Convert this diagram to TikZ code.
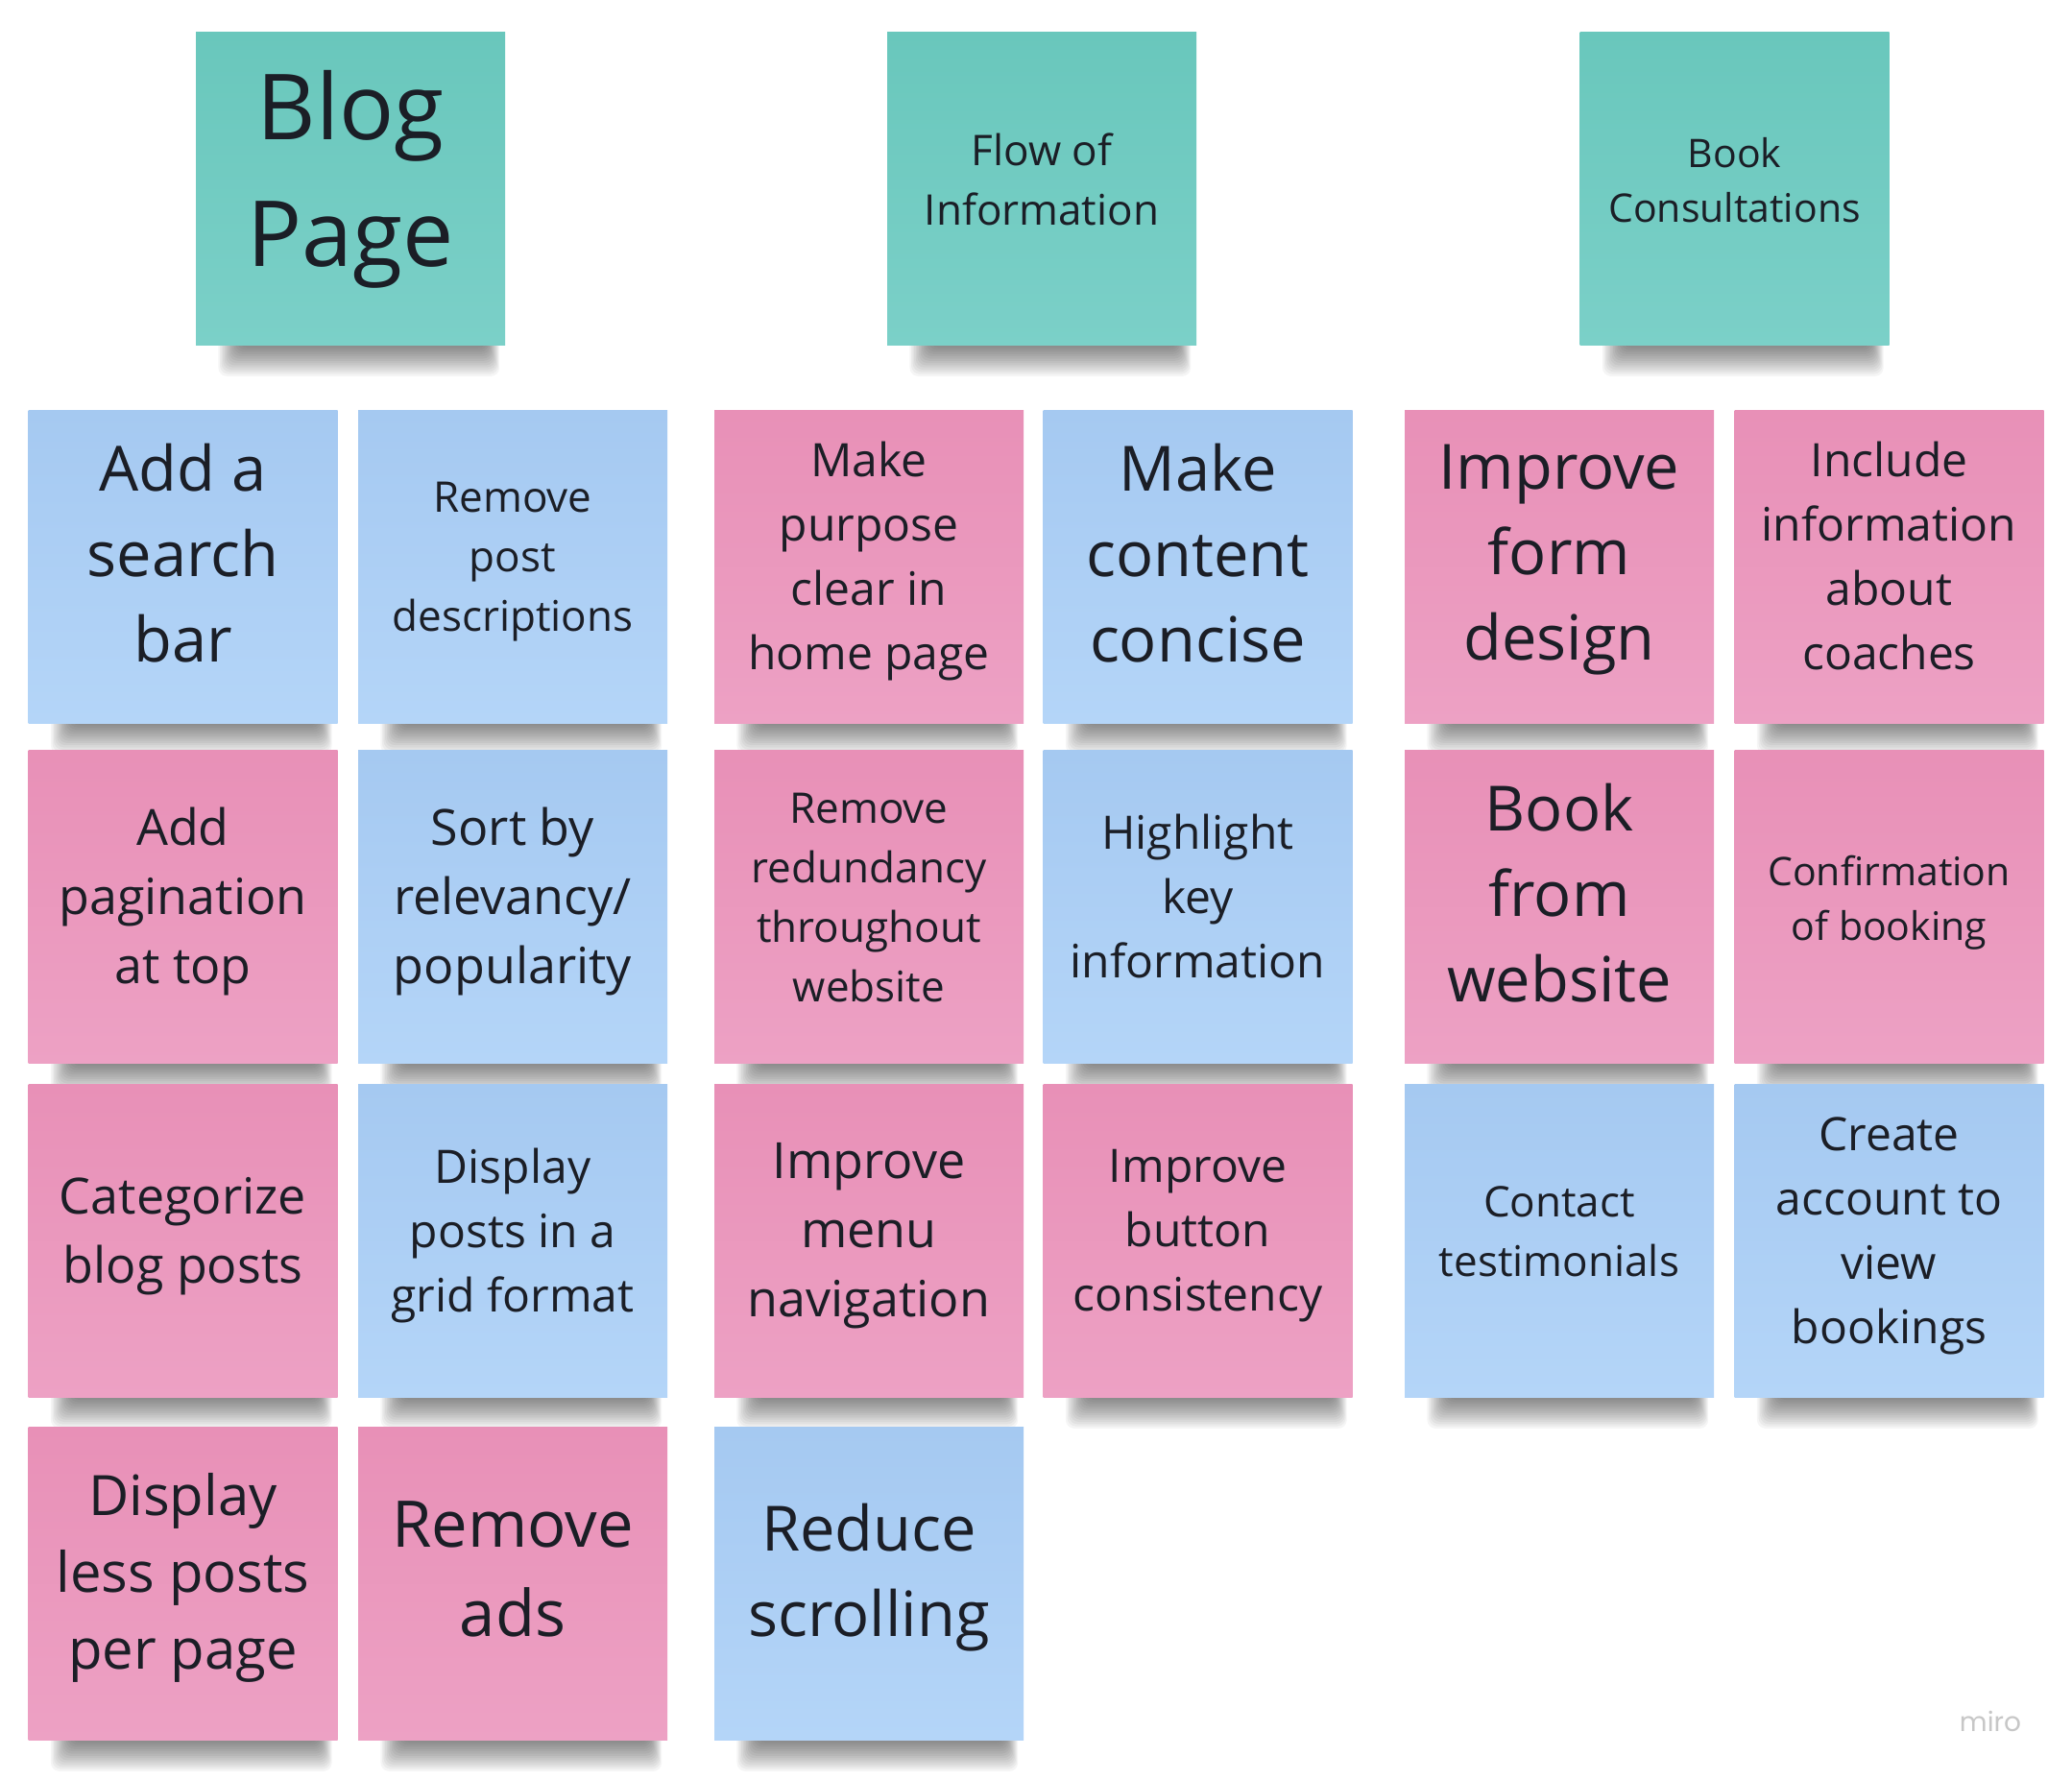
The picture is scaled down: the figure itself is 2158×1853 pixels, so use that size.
\documentclass[tikz,border=0pt]{standalone}
\usepackage{fontspec}
\setmainfont{Open Sans}
\newfontfamily\logofont{Poppins}
\usetikzlibrary{calc,backgrounds}

\definecolor{tealnote}{HTML}{69C7BC}
\definecolor{tealnotelow}{HTML}{7BD0C8}
\definecolor{bluenote}{HTML}{A5C9F1}
\definecolor{bluenotelow}{HTML}{B4D5F8}
\definecolor{pinknote}{HTML}{E890B7}
\definecolor{pinknotelow}{HTML}{EDA1C4}
\definecolor{ink}{HTML}{1B1E26}

\tikzset{
  note/.style={rectangle,inner sep=0pt,minimum width=322pt,minimum height=326pt,
    align=center,text=ink},
  tealbox/.style={note,top color=tealnote,bottom color=tealnotelow},
  bluebox/.style={note,top color=bluenote,bottom color=bluenotelow},
  pinkbox/.style={note,top color=pinknote,bottom color=pinknotelow},
  % text depth kept fixed so that the lines sit like line boxes
  t95/.style={font=\fontsize{95}{132}\selectfont,text depth=43pt},
  t67/.style={font=\fontsize{67}{93}\selectfont,text depth=30pt},
  t65/.style={font=\fontsize{65}{89}\selectfont,text depth=29pt},
  t58/.style={font=\fontsize{58}{80}\selectfont,text depth=26pt},
  t52/.style={font=\fontsize{52}{72}\selectfont,text depth=23pt},
  t48/.style={font=\fontsize{48}{67}\selectfont,text depth=22pt},
  t44/.style={font=\fontsize{44}{62}\selectfont,text depth=20pt},
  t41/.style={font=\fontsize{41}{57}\selectfont,text depth=18pt}
}

\begin{document}
\begin{tikzpicture}[x=1pt,y=-1pt]
  \useasboundingbox (0,0) rectangle (2158,1853);

  % headers
  \node[tealbox,t95] (blog) at (365,196.5) {Blog\\Page};
  \node[tealbox,t44] (flow) at (1085,196.5) {Flow of\\Information};
  \node[tealbox,t41] (book) at (1806.5,196.5) {Book\\Consultations};

  % row 1
  \node[bluebox,t65] (searchbar) at (190.5,590) {Add a\\search\\bar};
  \node[bluebox,t44] (postdesc) at (534,590) {Remove\\post\\descriptions};
  \node[pinkbox,t48] (purpose) at (905,590) {Make\\purpose\\clear in\\home page};
  \node[bluebox,t65] (concise) at (1247.5,590) {Make\\content\\concise};
  \node[pinkbox,t65] (formdesign) at (1624,590) {Improve\\form\\design};
  \node[pinkbox,t48] (coaches) at (1967.5,590) {Include\\information\\about\\coaches};

  % row 2
  \node[pinkbox,t52] (pagination) at (190.5,944.5) {Add\\pagination\\at top};
  \node[bluebox,t52] (sortby) at (534,944.5) {Sort by\\relevancy/\\popularity};
  \node[pinkbox,t44] (redundancy) at (905,944.5) {Remove\\redundancy\\throughout\\website};
  \node[bluebox,t48] (highlight) at (1247.5,944.5) {Highlight\\key\\information};
  \node[pinkbox,t65] (bookweb) at (1624,944.5) {Book\\from\\website};
  \node[pinkbox,t41] (confirm) at (1967.5,944.5) {Confirmation\\of booking};

  % row 3
  \node[pinkbox,t52] (categorize) at (190.5,1292.5) {Categorize\\blog posts};
  \node[bluebox,t48] (grid) at (534,1292.5) {Display\\posts in a\\grid format};
  \node[pinkbox,t52] (menunav) at (905,1292.5) {Improve\\menu\\navigation};
  \node[pinkbox,t48] (buttons) at (1247.5,1292.5) {Improve\\button\\consistency};
  \node[bluebox,t44] (testimonials) at (1624,1292.5) {Contact\\testimonials};
  \node[bluebox,t48] (account) at (1967.5,1292.5) {Create\\account to\\view\\bookings};

  % row 4
  \node[pinkbox,t58] (lessposts) at (190.5,1649.5) {Display\\less posts\\per page};
  \node[pinkbox,t67] (ads) at (534,1649.5) {Remove\\ads};
  \node[bluebox,t65] (scrolling) at (905,1649.5) {Reduce\\scrolling};

  \node[text=black!22] (miro) at (2073,1793) {\logofont\fontsize{28}{30}\selectfont miro};

  % soft shadows under the notes
  \begin{pgfonlayer}{background}
    \fill[white] (0,0) rectangle (2158,1853);
    \foreach \n in {blog,flow,book,searchbar,postdesc,purpose,concise,formdesign,
      coaches,pagination,sortby,redundancy,highlight,bookweb,confirm,categorize,
      grid,menunav,buttons,testimonials,account,lessposts,ads,scrolling}
      \foreach \k in {1,...,14}
        \fill[black,opacity=0.04,rounded corners=9pt]
          ($(\n.south west)+(46-1.6*\k,-10)$) rectangle ($(\n.south east)+(-20+\k,2.3*\k)$);
  \end{pgfonlayer}
\end{tikzpicture}
\end{document}
